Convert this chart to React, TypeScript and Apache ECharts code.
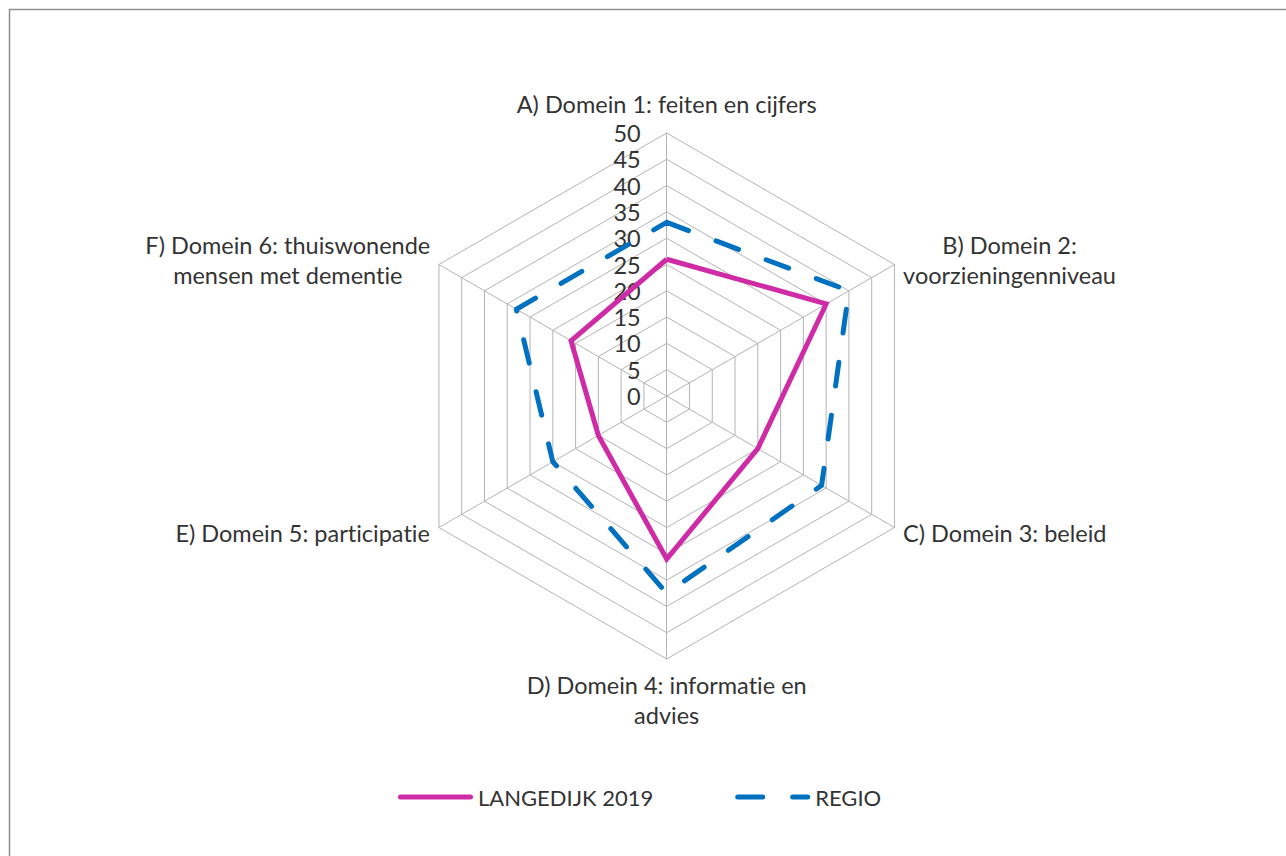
import React, { useEffect, useRef } from "react";
import * as echarts from "echarts";

const categories = [
  "A) Domein 1: feiten en cijfers",
  "B) Domein 2:\nvoorzieningenniveau",
  "C) Domein 3: beleid",
  "D) Domein 4: informatie en\nadvies",
  "E) Domein 5: participatie",
  "F) Domein 6: thuiswonende\nmensen met dementie",
];
const langedijk2019 = [26, 35, 20, 31, 15, 21];
const regio = [33, 40, 34, 37.5, 25, 33];
const seriesNames = ["LANGEDIJK 2019", "REGIO"];
const axisMax = 50;
const axisSplits = 10;

const FONT = 'Lato, "Noto Sans", sans-serif';
const FS = 23.5;
const TEXT = "#333333";
const GRID = "#b4b4b4";
const MAGENTA = "#D02BA6";
const BLUE = "#0070C0";

// clockwise order (A, B, C ... going right) – ECharts lays indicators counter-clockwise
const order = [0, 5, 4, 3, 2, 1];

const magentaIcon =
  "path://M2.5,0H72.5A2.5,2.5,0,0,1,72.5,5H2.5A2.5,2.5,0,0,1,2.5,0Z";
const blueIcon =
  "path://M2.5,0H27.5A2.5,2.5,0,0,1,27.5,5H2.5A2.5,2.5,0,0,1,2.5,0Z M57.5,0H72.5A2.5,2.5,0,0,1,72.5,5H57.5A2.5,2.5,0,0,1,57.5,0Z";

export default function App() {
  const ref = useRef<HTMLDivElement>(null);
  useEffect(() => {
    document.body.style.margin = "0";
    if (!ref.current) return;
    const chart = echarts.init(ref.current, undefined, { renderer: "svg" });
    const indicator = order.map((i, k) => ({
      name: categories[i],
      min: 0,
      max: axisMax,
      ...(k === 0 ? { axisLabel: { show: true } } : {}),
    }));
    const baseRich = {
      align: "center",
      color: TEXT,
      fontSize: FS,
      fontFamily: FONT,
      lineHeight: 30,
    };
    chart.setOption({
      animation: false,
      backgroundColor: "#ffffff",
      graphic: [
        {
          type: "rect",
          shape: { x: 9.5, y: 9.5, width: 1400, height: 1000 },
          style: { fill: "none", stroke: "#8e8e8e", lineWidth: 1.5 },
          silent: true,
        },
      ],
      radar: {
        center: [666.7, 396],
        radius: 263,
        startAngle: 90,
        shape: "polygon",
        splitNumber: axisSplits,
        nameGap: 10,
        indicator,
        axisName: {
          color: TEXT,
          fontSize: FS,
          fontFamily: FONT,
          lineHeight: 30,
          formatter: (v: string) => {
            const key = v === categories[0] ? "t" : v === categories[3] ? "b" : "c";
            return v
              .split("\n")
              .map((l) => `{${key}|${l}}`)
              .join("\n");
          },
          rich: {
            c: { ...baseRich },
            t: { ...baseRich, padding: [0, 0, 5, 0] },
            b: { ...baseRich, padding: [1, 0, 0, 0] },
          },
        },
        axisLine: { lineStyle: { color: GRID, width: 1 } },
        splitLine: { lineStyle: { color: GRID, width: 1 } },
        splitArea: { show: false },
        axisTick: { show: false },
        axisLabel: {
          show: false,
          color: TEXT,
          fontSize: FS,
          fontFamily: FONT,
          margin: 26,
          hideOverlap: false,
        },
      },
      legend: {
        left: 398,
        top: 786,
        padding: 0,
        itemWidth: 75,
        itemHeight: 5,
        itemGap: 82,
        itemStyle: { borderWidth: 0 },
        textStyle: { fontSize: 22, fontFamily: FONT, color: TEXT },
        data: [
          { name: seriesNames[0], icon: magentaIcon },
          { name: seriesNames[1], icon: blueIcon },
        ],
      },
      series: [
        {
          type: "radar",
          symbol: "none",
          data: [
            {
              name: seriesNames[0],
              value: order.map((i) => langedijk2019[i]),
              itemStyle: { color: MAGENTA },
              lineStyle: { color: MAGENTA, width: 5, join: "miter" },
            },
            {
              name: seriesNames[1],
              value: order.map((i) => regio[i]),
              itemStyle: { color: BLUE },
              lineStyle: {
                color: BLUE,
                width: 5,
                type: [24, 29.5],
                cap: "round",
                join: "round",
                dashOffset: 9,
              },
            },
          ],
        },
      ],
    });
    return () => chart.dispose();
  }, []);
  return (
    <div
      ref={ref}
      style={{
        position: "absolute",
        left: 0,
        top: 0,
        width: 1286,
        height: 856,
        fontVariantLigatures: "none",
      }}
    />
  );
}
